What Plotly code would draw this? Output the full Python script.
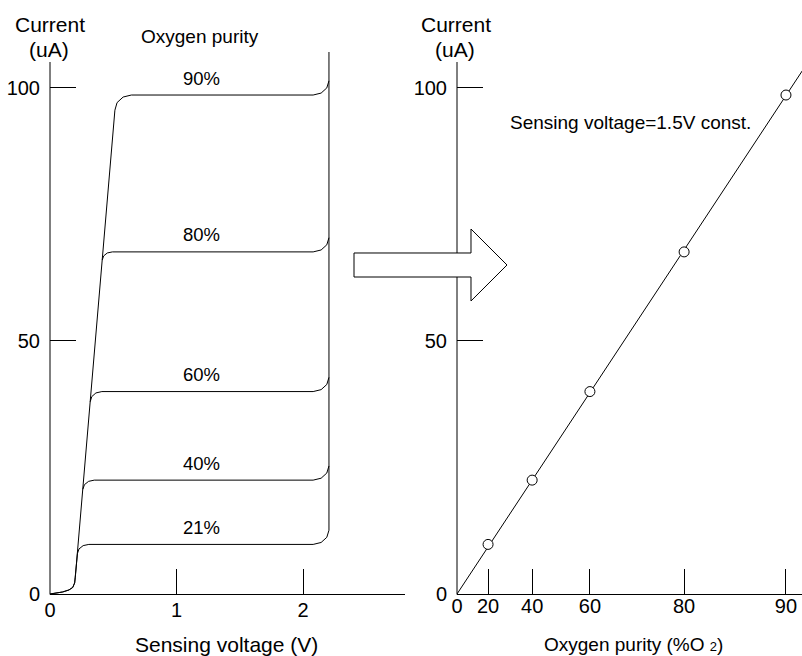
import plotly.graph_objects as go

W, H = 802, 656

# ---------------- Left chart: current vs sensing voltage, per oxygen purity -------------
purity_names = ["21%", "40%", "60%", "80%", "90%"]
plateau_current = [9.8, 22.5, 40.0, 67.6, 98.6]   # uA, plateau of each curve

# foot of the curves (shared, drawn once with the 90 % curve) and the steep rise
v_foot = [0.0, 0.05, 0.10, 0.15, 0.18, 0.195, 0.20]
i_foot = [0.0, 0.15, 0.40, 0.80, 1.30, 2.20, 3.30]

# each curve: knee -> plateau -> breakdown curl at ~2.2 V
v_21 = v_foot + [0.217, 0.229, 0.262, 0.307, 2.08, 2.143, 2.188, 2.205, 2.205]
i_21 = i_foot + [8.0, 8.9, 9.56, 9.8, 9.8, 10.18, 11.2, 12.6, 107.1]
v_40 = [0.260, 0.272, 0.305, 0.350, 2.08, 2.143, 2.188, 2.205]
i_40 = [20.7, 21.6, 22.26, 22.5, 22.5, 22.88, 23.9, 25.3]
v_60 = [0.318, 0.330, 0.363, 0.410, 2.08, 2.143, 2.188, 2.205]
i_60 = [38.0, 39.0, 39.73, 40.0, 40.0, 40.38, 41.4, 42.8]
v_80 = [0.413, 0.424, 0.453, 0.493, 2.08, 2.143, 2.188, 2.205]
i_80 = [66.0, 66.8, 67.39, 67.6, 67.6, 67.98, 69.0, 70.4]
v_90 = v_foot + [0.513, 0.530, 0.578, 0.643, 2.08, 2.143, 2.188, 2.205]
i_90 = i_foot + [95.6, 97.1, 98.2, 98.6, 98.6, 98.98, 100.0, 101.4]

left_x_ticks = [0, 1, 2]
left_y_ticks = [0, 50, 100]
label_voltage = 1.20

# ---------------- Right chart: current at 1.5 V vs oxygen purity -------------------------
purity_labels = ["0", "20", "40", "60", "80", "90"]
purity_pos = [0, 9.3, 22.5, 39.8, 68.0, 98.5]      # axis positions of purity ticks
current_15v = [9.8, 22.5, 40.0, 67.6, 98.6]        # uA at 20,40,60,80,90 %
fit_x = [0, 104]
fit_y = [0, 104]
right_y_ticks = [0, 50, 100]

FONT = "Liberation Sans, Arial, Helvetica, sans-serif"


def px(x):
    return x / W


def py(y):
    return 1 - y / H


fig = go.Figure()
line_style = dict(color="black", width=1)
curves = [(v_21, i_21), (v_40, i_40), (v_60, i_60), (v_80, i_80), (v_90, i_90)]
for (vv, ii), name in zip(curves, purity_names):
    fig.add_trace(go.Scatter(x=vv, y=ii, mode="lines", line=line_style, name=name,
                             xaxis="x", yaxis="y", hoverinfo="skip"))

fig.add_trace(go.Scatter(x=fit_x, y=fit_y, mode="lines", line=line_style,
                         xaxis="x2", yaxis="y2", hoverinfo="skip"))
fig.add_trace(go.Scatter(x=purity_pos[1:], y=current_15v, mode="markers",
                         marker=dict(symbol="circle", size=10, color="white",
                                     line=dict(color="black", width=1)),
                         xaxis="x2", yaxis="y2", cliponaxis=False))

axis_common = dict(showgrid=False, zeroline=False, ticks="inside", tickcolor="black",
                   tickwidth=1, linecolor="black", linewidth=1, automargin=False,
                   tickfont=dict(family=FONT, size=20, color="black"))

fig.update_layout(
    width=W, height=H, margin=dict(l=0, r=0, t=0, b=0, pad=0, autoexpand=False),
    paper_bgcolor="white", plot_bgcolor="white", showlegend=False,
    font=dict(family=FONT, color="black"),
    xaxis=dict(domain=[px(50), px(405)], range=[0, 2.806], tickvals=left_x_ticks,
               ticklen=25, showline=True, anchor="y", ticklabelstandoff=-2, **axis_common),
    yaxis=dict(domain=[py(594), py(52)], range=[0, 107.1], tickvals=left_y_ticks,
               ticklen=26, showline=False, anchor="x", ticklabelstandoff=9, **axis_common),
    xaxis2=dict(domain=[px(457), 1.0], range=[0, 103.3], tickvals=purity_pos,
                ticktext=purity_labels, ticklen=25, showline=True, anchor="y2",
                ticklabelstandoff=-6, **axis_common),
    yaxis2=dict(domain=[py(594), py(52)], range=[0, 107.1], tickvals=right_y_ticks,
                ticklen=26, showline=False, anchor="x2", ticklabelstandoff=9, **axis_common),
)

# axis lines (vertical) up to 105 uA
for xa in (50, 457):
    fig.add_shape(type="line", xref="paper", yref="paper", x0=px(xa), x1=px(xa),
                  y0=py(594.5), y1=py(62), line=dict(color="black", width=1))

# block arrow between the charts
arrow_pts = [(354, 253), (471, 253), (471, 229), (507, 265), (471, 301), (471, 277), (354, 277)]
path = "M " + " L ".join(f"{px(a):.5f},{py(b):.5f}" for a, b in arrow_pts) + " Z"
fig.add_shape(type="path", xref="paper", yref="paper", path=path, fillcolor="white",
              line=dict(color="black", width=1), layer="above")


def ann(text, x, y, size, xanchor="center"):
    fig.add_annotation(text=text, x=px(x), y=py(y), xref="paper", yref="paper",
                       showarrow=False, xanchor=xanchor, yanchor="middle",
                       font=dict(family=FONT, size=size, color="black"))


ann("Current", 50, 25, 21)
ann("(uA)", 49, 50, 21)
ann("Current", 456, 25, 21)
ann("(uA)", 455, 50, 21)
ann("Oxygen purity", 200, 36, 19)
ann("Sensing voltage (V)", 226, 644, 21)
ann("Oxygen purity (%O <span style='font-size:13px'>2</span>)", 633, 644, 19)
ann("Sensing voltage=1.5V const.", 630, 122, 19)

for name, lvl in zip(purity_names, plateau_current):
    fig.add_annotation(text=name, x=label_voltage, y=lvl, xref="x", yref="y",
                       showarrow=False, yanchor="middle", yshift=17,
                       font=dict(family=FONT, size=18.5, color="black"))

fig.write_html("out.html", config={"displayModeBar": False},
               post_script="document.body.style.margin='0';")
